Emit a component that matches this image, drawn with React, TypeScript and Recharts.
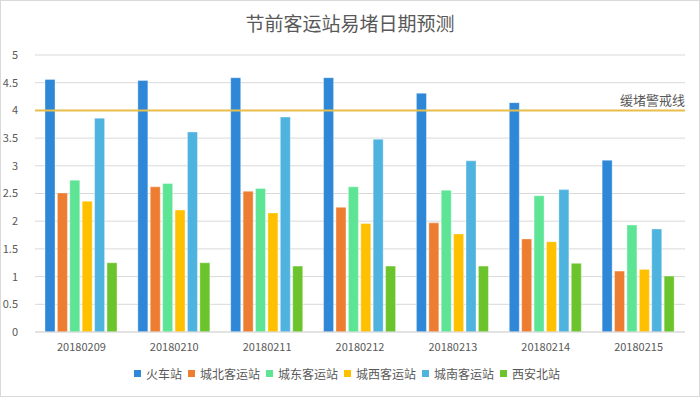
import { BarChart, Bar, XAxis, YAxis, CartesianGrid, Legend, ReferenceLine } from "recharts";

const dates = ["20180209", "20180210", "20180211", "20180212", "20180213", "20180214", "20180215"];

const huoche = [4.56, 4.54, 4.59, 4.59, 4.31, 4.14, 3.1];
const chengbei = [2.51, 2.62, 2.54, 2.25, 1.97, 1.68, 1.1];
const chengdong = [2.74, 2.68, 2.59, 2.62, 2.56, 2.46, 1.93];
const chengxi = [2.36, 2.2, 2.15, 1.96, 1.77, 1.63, 1.13];
const chengnan = [3.86, 3.61, 3.88, 3.48, 3.09, 2.57, 1.86];
const xianbei = [1.25, 1.25, 1.19, 1.19, 1.19, 1.24, 1.01];

const series = [
  { key: "huoche", name: "火车站", values: huoche, color: "#2E88D7" },
  { key: "chengbei", name: "城北客运站", values: chengbei, color: "#ED7D31" },
  { key: "chengdong", name: "城东客运站", values: chengdong, color: "#5DE595" },
  { key: "chengxi", name: "城西客运站", values: chengxi, color: "#FFC000" },
  { key: "chengnan", name: "城南客运站", values: chengnan, color: "#4FB3DF" },
  { key: "xianbei", name: "西安北站", values: xianbei, color: "#6CC42C" },
];

const yTicks = [0, 0.5, 1, 1.5, 2, 2.5, 3, 3.5, 4, 4.5, 5];
const warnLevel = 4;
const warnLabel = "缓堵警戒线";

const data = dates.map((d, i) => {
  const row: Record<string, string | number> = { date: d };
  series.forEach((s) => {
    row[s.key] = s.values[i];
  });
  return row;
});

const font = "'Noto Sans CJK SC', 'Noto Sans', sans-serif";
const textColor = "#595959";

const renderLegend = () => (
  <div style={{ display: "flex", justifyContent: "center", fontFamily: font, fontSize: 12, color: textColor, height: 18 }}>
    {series.map((s) => (
      <div key={s.key} style={{ display: "flex", alignItems: "center", marginRight: 6 }}>
        <span style={{ display: "inline-block", width: 7, height: 7, background: s.color, marginRight: 5 }} />
        <span>{s.name}</span>
      </div>
    ))}
  </div>
);

const App = () => {
  return (
    <div
      style={{
        position: "absolute",
        left: 0,
        top: 0,
        width: 698,
        height: 395,
        border: "1px solid #d9d9d9",
        background: "#fff",
        fontFamily: font,
      }}
    >
      <div
        style={{
          position: "absolute",
          top: 8,
          width: "100%",
          textAlign: "center",
          fontSize: 19,
          color: textColor,
        }}
      >
        节前客运站易堵日期预测
      </div>
      <div style={{ position: "absolute", left: -1, top: -1 }}>
        <BarChart
          width={700}
          height={397}
          data={data}
          margin={{ top: 55, right: 15, left: 0, bottom: 17 }}
          barSize={10}
          barGap={2.4}
        >
          <CartesianGrid vertical={false} stroke="#d9d9d9" />
          <XAxis
            dataKey="date"
            height={30}
            tickLine={false}
            axisLine={{ stroke: "#d9d9d9" }}
            tick={{ fill: textColor, fontSize: 11, fontFamily: font }}
            tickMargin={5}
          />
          <YAxis
            width={35}
            domain={[0, 5]}
            ticks={yTicks}
            axisLine={false}
            tickLine={false}
            tickSize={0}
            tickMargin={17}
            tick={{ fill: textColor, fontSize: 11, fontFamily: font }}
          />
          {series.map((s) => (
            <Bar
              key={s.key}
              dataKey={s.key}
              name={s.name}
              fill={s.color}
              stroke="#ffffff"
              strokeOpacity={0.35}
              strokeWidth={1}
              isAnimationActive={false}
            />
          ))}
          <ReferenceLine
            y={warnLevel}
            stroke="#E9BE4A"
            strokeWidth={2}
            label={{ value: warnLabel, position: "insideTopRight", fill: textColor, fontSize: 13, fontFamily: font, offset: 0, dy: -15 }}
          />
          <Legend content={renderLegend} wrapperStyle={{ top: 364, left: 0, width: 700 }} />
        </BarChart>
      </div>
    </div>
  );
};

export default App;
